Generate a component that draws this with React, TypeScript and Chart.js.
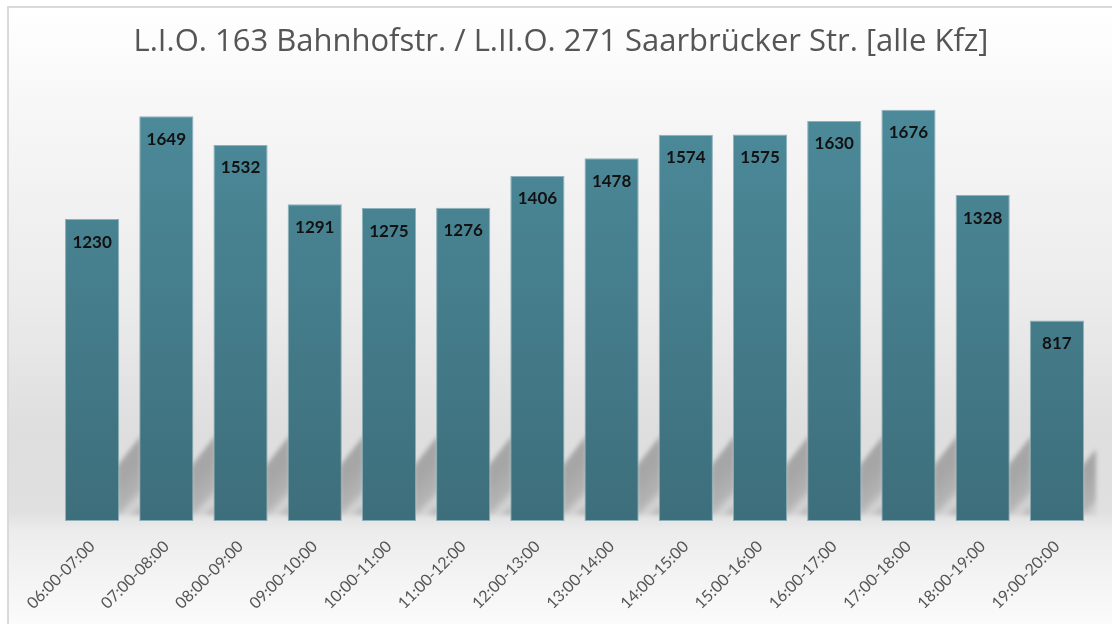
import React, { useEffect, useRef } from "react";
import { Chart, registerables } from "chart.js";

Chart.register(...registerables);

const TITLE = "L.I.O. 163 Bahnhofstr. / L.II.O. 271 Saarbrücker Str. [alle Kfz]";
const categories = [
  "06:00-07:00", "07:00-08:00", "08:00-09:00", "09:00-10:00", "10:00-11:00",
  "11:00-12:00", "12:00-13:00", "13:00-14:00", "14:00-15:00", "15:00-16:00",
  "16:00-17:00", "17:00-18:00", "18:00-19:00", "19:00-20:00",
];
const values = [1230, 1649, 1532, 1291, 1275, 1276, 1406, 1478, 1574, 1575, 1630, 1676, 1328, 817];
const yMax = 1800;

const backgroundPlugin = {
  id: "bgPlugin",
  beforeDraw(chart: any) {
    const { ctx, width, height } = chart;
    ctx.save();
    const g = ctx.createLinearGradient(0, 8, 0, height);
    g.addColorStop(0, "#ffffff");
    g.addColorStop(100 / 624, "#f7f7f7");
    g.addColorStop(300 / 624, "#ebebeb");
    g.addColorStop(430 / 624, "#dedede");
    g.addColorStop(510 / 624, "#e0e0e0");
    g.addColorStop(530 / 624, "#ececec");
    g.addColorStop(1, "#fbfbfb");
    ctx.fillStyle = "#ffffff";
    ctx.fillRect(0, 0, width, height);
    ctx.fillStyle = g;
    ctx.fillRect(8, 7, width - 8, height - 7);
    ctx.strokeStyle = "#d9d9d9";
    ctx.lineWidth = 2;
    ctx.beginPath();
    ctx.moveTo(8, height);
    ctx.lineTo(8, 7);
    ctx.lineTo(width, 7);
    ctx.stroke();
    ctx.restore();
  },
};

const shadowPlugin = {
  id: "shadowPlugin",
  beforeDatasetsDraw(chart: any) {
    const { ctx } = chart;
    const meta = chart.getDatasetMeta(0);
    ctx.save();
    ctx.filter = "blur(2px)";
    meta.data.forEach((bar: any, i: number) => {
      const right = bar.x + bar.width / 2;
      const next = meta.data[i + 1];
      const end = next ? next.x - next.width / 2 + 2 : right + 12;
      const base = bar.base;
      const w = end - right;
      const g = ctx.createLinearGradient(right, base - 40, right + 40, base);
      g.addColorStop(0, "rgba(160,160,160,0.9)");
      g.addColorStop(0.35, "rgba(175,175,175,0.9)");
      g.addColorStop(0.5, "rgba(205,205,205,0.6)");
      g.addColorStop(0.65, "rgba(170,170,170,0.85)");
      g.addColorStop(1, "rgba(200,200,200,0.3)");
      ctx.fillStyle = g;
      ctx.beginPath();
      ctx.moveTo(right - 2, base - 55);
      ctx.lineTo(end, base - 55 - w * 1.4);
      ctx.lineTo(end, base - 6);
      ctx.lineTo(right - 2, base - 6);
      ctx.closePath();
      ctx.fill();
    });
    ctx.restore();
  },
};

const labelPlugin = {
  id: "labelPlugin",
  afterDatasetsDraw(chart: any) {
    const { ctx } = chart;
    const meta = chart.getDatasetMeta(0);
    ctx.save();
    ctx.font = "bold 17px Lato";
    ctx.fillStyle = "#111111";
    ctx.textAlign = "center";
    ctx.textBaseline = "middle";
    meta.data.forEach((bar: any, i: number) => {
      ctx.fillText(String(values[i]), bar.x, bar.y + 23);
    });
    ctx.restore();
  },
};

export default function App() {
  const ref = useRef<HTMLCanvasElement>(null);
  useEffect(() => {
    document.body.style.margin = "0";
    const canvas = ref.current!;
    const chart = new Chart(canvas, {
      type: "bar",
      data: {
        labels: categories,
        datasets: [
          {
            data: values,
            backgroundColor: (c: any) => {
              const area = c.chart.chartArea;
              if (!area) return "#467f8e";
              const g = c.chart.ctx.createLinearGradient(0, area.bottom, 0, area.top);
              g.addColorStop(0, "#3d6e7b");
              g.addColorStop(1, "#4d8c9c");
              return g;
            },
            borderColor: "rgba(130,170,180,0.9)",
            borderWidth: 1,
            borderSkipped: false,
            barPercentage: 0.73,
            categoryPercentage: 1,
          },
        ],
      },
      options: {
        responsive: false,
        animation: false,
        layout: { padding: { left: 10, right: 0, top: 0, bottom: 0 } },
        plugins: {
          legend: { display: false },
          tooltip: { enabled: false },
          title: {
            display: true,
            text: TITLE,
            color: "#555555",
            font: { family: "Open Sans", size: 31, weight: "normal" },
            padding: { top: 24, bottom: 18 },
          },
        },
        scales: {
          y: {
            display: true,
            min: 0,
            max: yMax,
            grid: { display: false },
            border: { display: false },
            ticks: { display: false },
            afterFit: (scale: any) => {
              scale.width = 45;
            },
          },
          yRight: {
            type: "linear",
            position: "right",
            display: true,
            grid: { display: false },
            border: { display: false },
            ticks: { display: false },
            afterFit: (scale: any) => {
              scale.width = 18;
            },
          },
          x: {
            grid: { display: false },
            border: { display: false },
            ticks: {
              color: "#555555",
              font: { family: "Lato", size: 16 },
              minRotation: 45,
              maxRotation: 45,
              padding: 8,
            },
            afterFit: (scale: any) => {
              scale.height = 103;
              scale.paddingLeft = 0;
              scale.paddingRight = 0;
            },
          },
        },
      },
      plugins: [backgroundPlugin, shadowPlugin, labelPlugin],
    });
    return () => chart.destroy();
  }, []);
  return <canvas ref={ref} width={1112} height={624} style={{ display: "block" }} />;
}
